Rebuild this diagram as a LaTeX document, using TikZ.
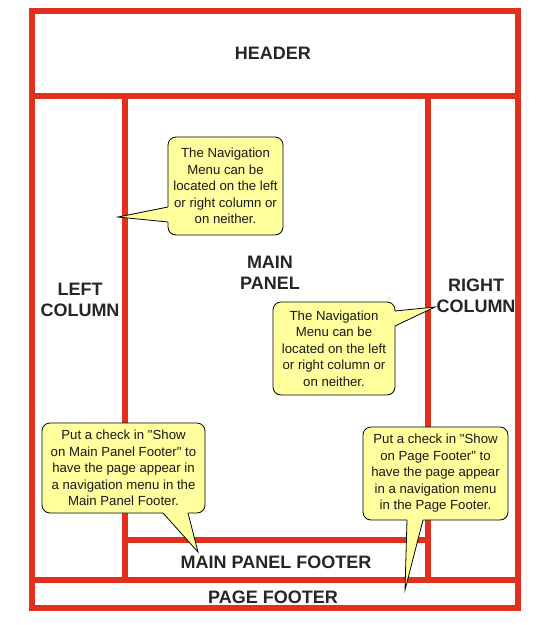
\documentclass[tikz,border=0pt]{standalone}
\usepackage{fontspec}
\setmainfont{Liberation Sans}
\newfontfamily\cfont{Liberation Sans}
\usetikzlibrary{calc}
\definecolor{fr}{HTML}{E2301F}
\definecolor{cy}{HTML}{FFFF9E}
\begin{document}
\begin{tikzpicture}[x=1pt,y=-1pt,
  frame/.style={draw=fr,line width=6pt},
  shadowline/.style={draw=black!14,line width=6pt},
  lbl/.style={font=\fontsize{18}{21}\selectfont\bfseries,align=center,text=black!85,inner sep=0pt},
  callout/.style={draw=black,line width=0.8pt,fill=cy,rounded corners=8pt,align=center,inner sep=0pt,
    font=\cfont\fontsize{13.2}{16.5}\selectfont,text=black!90},
  ptr/.style={draw=black,line width=0.8pt,line join=miter}]
\useasboundingbox (0,0) rectangle (543,625);
\fill[white] (0,0) rectangle (543,625);
% frame coordinates
\coordinate (TL) at (32,11);
\coordinate (BR) at (518,608);
\coordinate (HL) at (32,96);
\coordinate (HR) at (518,96);
\coordinate (FL) at (32,580);
\coordinate (FR) at (518,580);
\coordinate (LT) at (125,96);
\coordinate (LB) at (125,580);
\coordinate (RT) at (428,96);
\coordinate (RB) at (428,580);
\coordinate (ML) at (125,540);
\coordinate (MR) at (428,540);
% shadows
\begin{scope}[shift={(3,3)}]
  \draw[shadowline] (TL) rectangle (BR);
  \draw[shadowline] (HL) -- (HR);
  \draw[shadowline] (FL) -- (FR);
  \draw[shadowline] (LT) -- (LB);
  \draw[shadowline] (RT) -- (RB);
  \draw[shadowline] (ML) -- (MR);
\end{scope}
% frame
\draw[frame] (TL) rectangle (BR);
\draw[frame] (HL) -- (HR);
\draw[frame] (FL) -- (FR);
\draw[frame] (LT) -- (LB);
\draw[frame] (RT) -- (RB);
\draw[frame] (ML) -- (MR);
% labels
\node[lbl] (header) at (273,53) {HEADER};
\node[lbl] (main) at (270,273) {MAIN\\PANEL};
\node[lbl] (left) at (80,300) {LEFT\\COLUMN};
\node[lbl] (right) at (476,296) {RIGHT\\COLUMN};
\node[lbl] (mpf) at (276,562) {MAIN PANEL FOOTER};
\node[lbl] (pf) at (273,597) {PAGE FOOTER};
% callout 1
\node[callout,minimum width=115pt,minimum height=98pt] (c1) at (225.5,186)
  {The Navigation\\Menu can be\\located on the left\\or right column or\\on neither.};
\coordinate (t1) at (118,217);
\coordinate (p1a) at (168,207);
\coordinate (p1b) at (168,222);
\fill[cy] (p1a) -- (t1) -- (p1b) -- ($(p1b)+(2,0)$) -- ($(p1a)+(2,0)$) -- cycle;
\draw[ptr] (p1a) -- (t1) -- (p1b);
% callout 2
\node[callout,minimum width=122pt,minimum height=93pt] (c2) at (334,348.5)
  {The Navigation\\Menu can be\\located on the left\\or right column or\\on neither.};
\coordinate (t2) at (435,307);
\coordinate (p2a) at (395,311);
\coordinate (p2b) at (395,326);
\fill[cy] (p2a) -- (t2) -- (p2b) -- ($(p2b)+(-2,0)$) -- ($(p2a)+(-2,0)$) -- cycle;
\draw[ptr] (p2a) -- (t2) -- (p2b);
% callout 3
\node[callout,minimum width=163pt,minimum height=90pt] (c3) at (123.5,468)
  {Put a check in "Show\\on Main Panel Footer" to\\have the page appear in\\a navigation menu in the\\Main Panel Footer.};
\coordinate (t3) at (198,552);
\coordinate (p3a) at (163,513);
\coordinate (p3b) at (188,513);
\fill[cy] (p3a) -- (t3) -- (p3b) -- ($(p3b)+(0,-2)$) -- ($(p3a)+(0,-2)$) -- cycle;
\draw[ptr] (p3a) -- (t3) -- (p3b);
% callout 4
\node[callout,minimum width=145pt,minimum height=93pt] (c4) at (435.5,473.5)
  {Put a check in "Show\\on Page Footer" to\\have the page appear\\in a navigation menu\\in the Page Footer.};
\coordinate (t4) at (405,590);
\coordinate (p4a) at (407,520);
\coordinate (p4b) at (423,520);
\fill[cy] (p4a) -- (t4) -- (p4b) -- ($(p4b)+(0,-2)$) -- ($(p4a)+(0,-2)$) -- cycle;
\draw[ptr] (p4a) -- (t4) -- (p4b);
\end{tikzpicture}
\end{document}
